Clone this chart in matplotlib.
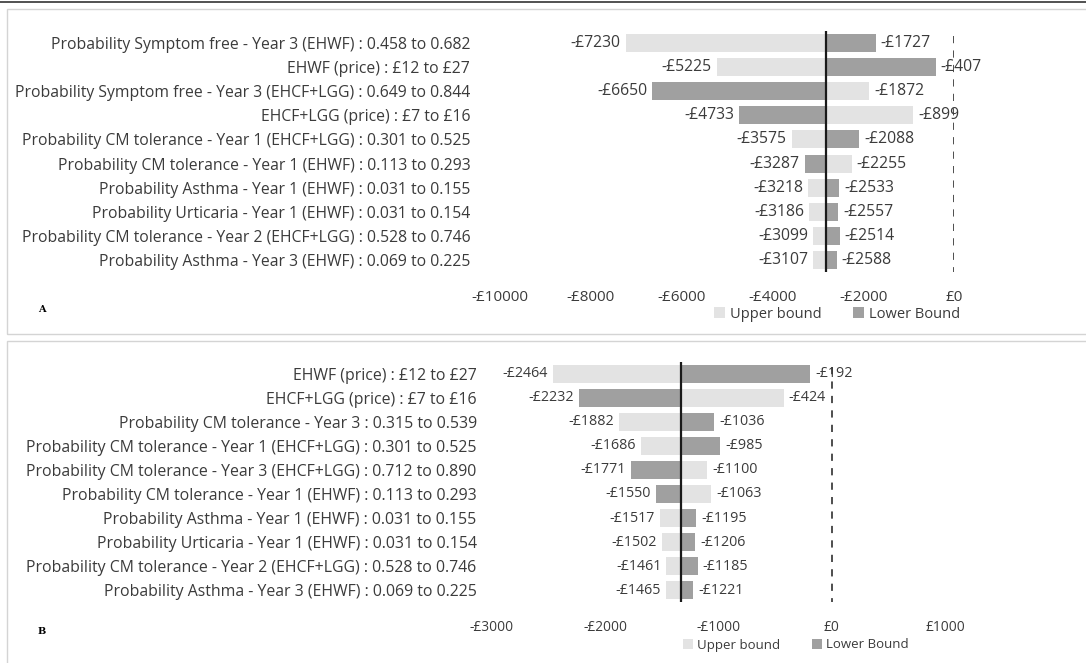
import matplotlib
matplotlib.use("Agg")
import matplotlib.pyplot as plt
from matplotlib.patches import Rectangle, Patch
from matplotlib.lines import Line2D

W, H = 1086, 663
LIGHT = "#e3e3e3"
DARK = "#a0a0a0"
TEXT = "#3b3b3b"

# Panel A: base-case net cost and one-way sensitivity bounds
labels_a = [
    "Probability Symptom free - Year 3 (EHWF) : 0.458 to 0.682",
    "EHWF (price) : £12 to £27",
    "Probability Symptom free - Year 3 (EHCF+LGG) : 0.649 to 0.844",
    "EHCF+LGG (price) : £7 to £16",
    "Probability CM tolerance - Year 1 (EHCF+LGG) : 0.301 to 0.525",
    "Probability CM tolerance - Year 1 (EHWF) : 0.113 to 0.293",
    "Probability Asthma - Year 1 (EHWF) : 0.031 to 0.155",
    "Probability Urticaria - Year 1 (EHWF) : 0.031 to 0.154",
    "Probability CM tolerance - Year 2 (EHCF+LGG) : 0.528 to 0.746",
    "Probability Asthma - Year 3 (EHWF) : 0.069 to 0.225",
]
upper_a = [-7230, -5225, -1872, -899, -3575, -2255, -3218, -3186, -3099, -3107]
lower_a = [-1727, -407, -6650, -4733, -2088, -3287, -2533, -2557, -2514, -2588]
base_a = -2820
ticks_a = [-10000, -8000, -6000, -4000, -2000, 0]

# Panel B
labels_b = [
    "EHWF (price) : £12 to £27",
    "EHCF+LGG (price) : £7 to £16",
    "Probability CM tolerance - Year 3 : 0.315 to 0.539",
    "Probability CM tolerance - Year 1 (EHCF+LGG) : 0.301 to 0.525",
    "Probability CM tolerance - Year 3 (EHCF+LGG) : 0.712 to 0.890",
    "Probability CM tolerance - Year 1 (EHWF) : 0.113 to 0.293",
    "Probability Asthma - Year 1 (EHWF) : 0.031 to 0.155",
    "Probability Urticaria - Year 1 (EHWF) : 0.031 to 0.154",
    "Probability CM tolerance - Year 2 (EHCF+LGG) : 0.528 to 0.746",
    "Probability Asthma - Year 3 (EHWF) : 0.069 to 0.225",
]
upper_b = [-2464, -424, -1882, -1686, -1100, -1063, -1517, -1502, -1461, -1465]
lower_b = [-192, -2232, -1036, -985, -1771, -1550, -1195, -1206, -1185, -1221]
base_b = -1330
ticks_b = [-3000, -2000, -1000, 0, 1000]

plt.rcParams["font.family"] = ["Open Sans", "DejaVu Sans"]

fig = plt.figure(figsize=(W / 100, H / 100), dpi=100)
fig.patch.set_facecolor("white")


def px_rect(x0, y0, x1, y1):
    return [x0 / W, 1 - y1 / H, (x1 - x0) / W, (y1 - y0) / H]


def money(v):
    return f"-£{abs(v)}" if v < 0 else f"£{v}"


def tornado(rect, labels, upper, lower, base, ticks, legend_xy, tag, tag_xy,
            fs_cat, fs_val, fs_tick, fs_leg, ypad, colsp):
    ax = fig.add_axes(rect)
    n = len(labels)
    ys = list(range(n))
    span = ticks[-1] - ticks[0]
    gap = span * 0.011
    for y, u, l in zip(ys, upper, lower):
        ax.barh(y, u - base, left=base, height=0.75, color=LIGHT, zorder=2)
        ax.barh(y, l - base, left=base, height=0.75, color=DARK, zorder=2)
        for v in (u, l):
            if v < base:
                ax.text(v - gap, y, money(v), ha="right", va="center",
                        fontsize=fs_val, color=TEXT, zorder=4)
            else:
                ax.text(v + gap, y, money(v), ha="left", va="center",
                        fontsize=fs_val, color=TEXT, zorder=4)
    ax.axvline(base, color="#1a1a1a", lw=1.6, zorder=3)
    ax.plot([0, 0], [-0.3, n - 0.5], color="#404040", lw=1.3,
            ls=(0, (4, 4)), zorder=3)
    ax.set_xlim(ticks[0], ticks[-1])
    ax.set_ylim(n - 0.5, -0.5)
    ax.set_yticks(ys)
    ax.set_yticklabels(labels, fontsize=fs_cat, color=TEXT)
    ax.set_xticks(ticks)
    ax.set_xticklabels([money(t) for t in ticks], fontsize=fs_tick, color=TEXT)
    ax.tick_params(axis="y", length=0, pad=ypad)
    ax.tick_params(axis="x", length=0, pad=13)
    for s in ax.spines.values():
        s.set_visible(False)
    handles = [Patch(facecolor=LIGHT, edgecolor="none"),
               Patch(facecolor=DARK, edgecolor="none")]
    fig.legend(handles, ["Upper bound", "Lower Bound"], ncol=2,
               loc="center", bbox_to_anchor=(legend_xy[0] / W, 1 - legend_xy[1] / H),
               frameon=False, fontsize=fs_leg, handlelength=0.75, handleheight=0.75,
               handletextpad=0.3, columnspacing=colsp, labelcolor=TEXT)
    fig.text(tag_xy[0] / W, 1 - tag_xy[1] / H, tag, fontsize=7,
             fontweight="bold", family="DejaVu Serif", color="black",
             ha="center", va="center")
    return ax


# Panel frames and top rule
fig.add_artist(Line2D([0, 1], [1 - 1.5 / H, 1 - 1.5 / H], color="#333333", lw=1.2))
fig.add_artist(Rectangle((7 / W, 1 - 334 / H), 1.2, (334 - 9) / H,
                         facecolor="none", edgecolor="#d4d4d4", lw=1.0))
fig.add_artist(Rectangle((7 / W, -0.1), 1.2, 0.1 + (663 - 341) / H,
                         facecolor="none", edgecolor="#d4d4d4", lw=1.0))

tornado(px_rect(500, 31, 954, 272), labels_a, upper_a, lower_a, base_a, ticks_a,
        (837, 314), "A", (42, 310),
        fs_cat=11.3, fs_val=11.3, fs_tick=11.0, fs_leg=10.5, ypad=21.5, colsp=2.2)
tornado(px_rect(492, 362, 945, 602), labels_b, upper_b, lower_b, base_b, ticks_b,
        (796, 645), "B", (42, 632),
        fs_cat=11.4, fs_val=10.3, fs_tick=9.9, fs_leg=9.5, ypad=11, colsp=2.4)

fig.savefig("out.png", dpi=100, facecolor="white")
